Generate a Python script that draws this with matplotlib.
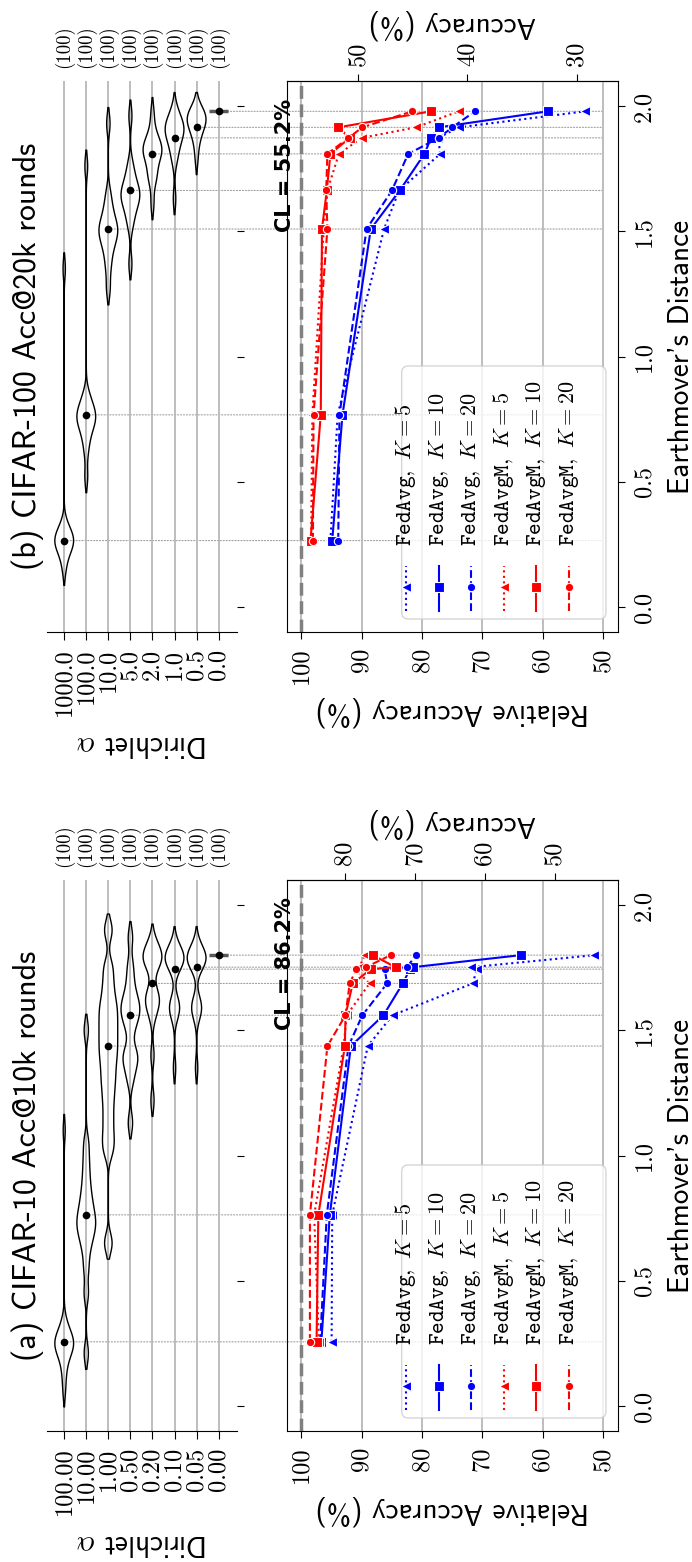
import numpy as np
import matplotlib
matplotlib.use("Agg")
import matplotlib.pyplot as plt
from matplotlib import mlab
from matplotlib.patches import ConnectionPatch, FancyBboxPatch

plt.rcParams["mathtext.fontset"] = "cm"
plt.rcParams["axes.unicode_minus"] = False

# ---------------- data ----------------
# (a) CIFAR-10
alpha_a = ["100.00", "10.00", "1.00", "0.50", "0.20", "0.10", "0.05", "0.00"]
count_a = [100, 100, 100, 100, 100, 100, 100, 100]
emd_a = [0.256, 0.763, 1.437, 1.560, 1.687, 1.744, 1.752, 1.800]
violin_a = [
    [0.06, 0.12, 0.16, 0.19, 0.21, 0.22, 0.23, 0.24, 0.25, 0.25, 0.26, 0.27, 0.28, 0.29, 0.31, 0.34, 1.10],
    [0.21, 0.45, 0.55, 0.62, 0.66, 0.69, 0.71, 0.73, 0.75, 0.77, 0.80, 0.83, 0.87, 0.92, 0.98, 1.05, 1.50],
    [0.65, 1.02, 1.08, 1.15, 1.22, 1.28, 1.33, 1.38, 1.42, 1.46, 1.50, 1.54, 1.58, 1.62, 1.68, 1.75, 1.90],
    [1.13, 1.30, 1.35, 1.38, 1.40, 1.42, 1.50, 1.54, 1.56, 1.58, 1.60, 1.62, 1.65, 1.70, 1.76, 1.87],
    [1.22, 1.40, 1.55, 1.59, 1.61, 1.62, 1.64, 1.66, 1.74, 1.77, 1.78, 1.79, 1.80, 1.81, 1.83, 1.86],
    [1.35, 1.55, 1.58, 1.59, 1.60, 1.62, 1.74, 1.76, 1.77, 1.78, 1.79, 1.79, 1.80, 1.81, 1.82, 1.85],
    [1.35, 1.55, 1.58, 1.59, 1.60, 1.62, 1.75, 1.76, 1.77, 1.78, 1.79, 1.79, 1.80, 1.81, 1.82, 1.85],
    [1.80],
]
fedavg5_a = [95.0, 94.9, 89.0, 84.9, 71.6, 70.9, 71.8, 51.4]
fedavg10_a = [96.7, 95.3, 91.8, 86.4, 83.2, 82.0, 81.5, 63.6]
fedavg20_a = [96.9, 95.8, 92.2, 89.9, 85.8, 86.2, 82.5, 81.0]
fedavgm5_a = [97.1, 97.9, 93.0, 92.5, 88.7, 91.1, 90.4, 89.5]
fedavgm10_a = [97.5, 97.2, 92.8, 92.7, 91.5, 88.5, 84.4, 88.2]
fedavgm20_a = [98.6, 98.6, 95.7, 92.7, 92.0, 90.9, 89.3, 85.2]
cl_a = 86.2
acc_ticks_a = [80, 70, 60, 50]

# (b) CIFAR-100
alpha_b = ["1000.0", "100.0", "10.0", "5.0", "2.0", "1.0", "0.5", "0.0"]
count_b = [100, 100, 100, 100, 100, 100, 100, 100]
emd_b = [0.265, 0.767, 1.509, 1.663, 1.809, 1.873, 1.915, 1.979]
violin_b = [
    [0.15, 0.20, 0.22, 0.24, 0.25, 0.26, 0.265, 0.27, 0.28, 0.29, 0.31, 0.33, 1.35],
    [0.52, 0.62, 0.67, 0.70, 0.72, 0.74, 0.75, 0.76, 0.77, 0.78, 0.80, 0.82, 0.85, 1.76],
    [1.27, 1.35, 1.40, 1.44, 1.46, 1.48, 1.50, 1.51, 1.52, 1.54, 1.57, 1.60, 1.65, 1.93],
    [1.37, 1.52, 1.56, 1.59, 1.61, 1.63, 1.64, 1.65, 1.66, 1.68, 1.70, 1.73, 1.77, 1.96],
    [1.61, 1.70, 1.72, 1.74, 1.78, 1.80, 1.81, 1.82, 1.83, 1.84, 1.85, 1.87, 1.90, 1.97],
    [1.63, 1.78, 1.81, 1.84, 1.86, 1.88, 1.89, 1.90, 1.91, 1.92, 1.93, 1.94, 1.96, 1.99],
    [1.79, 1.85, 1.88, 1.90, 1.92, 1.93, 1.94, 1.95, 1.95, 1.96, 1.97, 1.98, 1.99],
    [1.979],
]
fedavg5_b = [95.2, 94.0, 86.3, 83.8, 77.0, 77.3, 73.9, 52.9]
fedavg10_b = [94.9, 93.2, 88.5, 83.7, 79.6, 78.5, 77.2, 59.1]
fedavg20_b = [93.9, 93.7, 89.2, 85.0, 82.3, 77.2, 75.0, 71.2]
fedavgm5_b = [98.4, 98.2, 96.3, 95.7, 93.8, 90.0, 81.0, 73.9]
fedavgm10_b = [98.5, 96.8, 96.6, 95.8, 95.2, 92.0, 93.9, 78.5]
fedavgm20_b = [98.1, 98.0, 95.7, 95.9, 95.7, 92.2, 89.9, 81.6]
cl_b = 55.2
acc_ticks_b = [50, 40, 30]

emd_ticks = [0.0, 0.5, 1.0, 1.5, 2.0]
rel_ticks = [100, 90, 80, 70, 60, 50]

# label, colour, linestyle, marker, markersize
styles = [
    (r"$\mathtt{FedAvg},\ K = 5$", "blue", ":", "<", 7.5),
    (r"$\mathtt{FedAvg},\ K = 10$", "blue", "-", "s", 7),
    (r"$\mathtt{FedAvg},\ K = 20$", "blue", "--", "o", 6),
    (r"$\mathtt{FedAvgM},\ K = 5$", "red", ":", "<", 7.5),
    (r"$\mathtt{FedAvgM},\ K = 10$", "red", "-", "s", 7),
    (r"$\mathtt{FedAvgM},\ K = 20$", "red", "--", "o", 6),
]

panels = [
    dict(title="(a) CIFAR-10 Acc@10k rounds", alphas=alpha_a, counts=count_a, emd=emd_a,
         samples=violin_a, cl=cl_a, acc_ticks=acc_ticks_a,
         series=[fedavg5_a, fedavg10_a, fedavg20_a, fedavgm5_a, fedavgm10_a, fedavgm20_a],
         top=880, bottom=1431),
    dict(title="(b) CIFAR-100 Acc@20k rounds", alphas=alpha_b, counts=count_b, emd=emd_b,
         samples=violin_b, cl=cl_b, acc_ticks=acc_ticks_b,
         series=[fedavg5_b, fedavg10_b, fedavg20_b, fedavgm5_b, fedavgm10_b, fedavgm20_b],
         top=81, bottom=632),
]

# ---------------- layout ----------------
W, H = 692, 1562
fig = plt.figure(figsize=(W / 100, H / 100), dpi=100)


def box(x0, y0, x1, y1):
    return [x0 / W, 1 - y1 / H, (x1 - x0) / W, (y1 - y0) / H]


def violin_stats(samples, h=0.04, cut=1.6):
    # kde evaluated a little past the data so the ends taper (like seaborn's cut)
    data = np.asarray(samples, dtype=float)
    kde = mlab.GaussianKDE(data, bw_method=h / np.std(data, ddof=1))
    coords = np.linspace(data.min() - cut * h, data.max() + cut * h, 300)
    return dict(coords=coords, vals=kde.evaluate(coords), mean=data.mean(),
                median=np.median(data), min=data.min(), max=data.max())


TICK = 17.5
LAB = 21
SANS = "cmss10"
SERIF = "cmr10"

for p in panels:
    ax_v = fig.add_axes(box(47, p["top"], 237, p["bottom"]))
    ax_a = fig.add_axes(box(287, p["top"], 618, p["bottom"]))
    for ax in (ax_v, ax_a):
        ax.set_facecolor("none")
        ax.set_ylim(-0.1, 2.1)
        ax.set_yticks(emd_ticks)

    emd = p["emd"]
    pos = list(range(len(p["alphas"])))

    # ---- violin panel (rotated) ----
    multi = [i for i in pos if len(p["samples"][i]) > 1]
    parts = ax_v.violin([violin_stats(p["samples"][i]) for i in multi], positions=multi,
                        widths=0.85, showextrema=False)
    for body in parts["bodies"]:
        body.set_facecolor("none")
        body.set_edgecolor("black")
        body.set_linewidth(1.0)
        body.set_alpha(1)
    for i in pos:
        if len(p["samples"][i]) == 1:
            ax_v.hlines(p["samples"][i][0], i - 0.42, i + 0.42, color="0.35", lw=2.5, zorder=3)
    ax_v.plot(pos, emd, "o", color="black", ms=4.5, zorder=5)

    ax_v.set_xlim(-0.78, 7.83)
    ax_v.set_xticks(pos)
    ax_v.set_xticklabels(p["alphas"])
    ax_v.tick_params(axis="x", labelrotation=90, labelsize=TICK, labelfontfamily=SERIF,
                     length=6, pad=6)
    ax_v.yaxis.tick_right()
    ax_v.tick_params(axis="y", labelright=False, length=5)
    for s in ("top", "left", "right"):
        ax_v.spines[s].set_visible(False)
    ax_v.grid(axis="x", color="0.72", lw=1.3)
    ax_v.set_axisbelow(True)
    ax_v.set_xlabel(r"Dirichlet $\alpha$", rotation=180, fontsize=LAB, family=SANS, labelpad=10)

    sec_v = ax_v.secondary_xaxis("top")
    sec_v.set_xticks(pos)
    sec_v.set_xticklabels(["(%d)" % c for c in p["counts"]])
    sec_v.tick_params(length=0, labelrotation=90, labelsize=13.5, labelfontfamily=SERIF, pad=9)
    sec_v.spines["top"].set_visible(False)

    ymid = 1 - (p["top"] + p["bottom"]) / 2 / H
    fig.text(27.5 / W, ymid, p["title"], rotation=90, ha="center", va="center",
             fontsize=23, family=SANS)

    # ---- accuracy panel (rotated) ----
    for (label, color, ls, marker, ms), vals in zip(styles, p["series"]):
        ax_a.plot(vals, emd, color=color, ls=ls, marker=marker, ms=ms, mec="white",
                  mew=0.8, lw=1.5, zorder=3)
    ax_a.axvline(100, color="gray", ls="--", lw=2.5, zorder=2)
    ax_a.text(101.0, 2.03, "CL = %.1f%%" % p["cl"], rotation=90, ha="right", va="top",
              fontsize=15, fontweight="bold", clip_on=False)

    ax_a.set_xlim(102.4, 47.5)
    ax_a.set_xticks(rel_ticks)
    ax_a.set_yticklabels(["%.1f" % t for t in emd_ticks])
    ax_a.yaxis.tick_right()
    ax_a.yaxis.set_label_position("right")
    ax_a.tick_params(labelsize=TICK, labelfontfamily=SERIF, length=5, pad=6)
    ax_a.tick_params(axis="both", labelrotation=90)
    for t in ax_a.get_yticklabels():
        t.set_va("center")
    ax_a.grid(axis="x", color="0.72", lw=1.3)
    ax_a.set_axisbelow(True)
    ax_a.set_xlabel("Relative Accuracy (%)", rotation=180, fontsize=LAB, family=SANS, labelpad=9)
    ax_a.set_ylabel("Earthmover's Distance", rotation=90, fontsize=LAB, family=SANS, labelpad=9)

    cl = p["cl"]
    sec_a = ax_a.secondary_xaxis("top", functions=(lambda r, c=cl: r * c / 100,
                                                   lambda a, c=cl: a * 100 / c))
    sec_a.set_xticks(p["acc_ticks"])
    sec_a.tick_params(labelrotation=90, labelsize=TICK, labelfontfamily=SERIF, length=5, pad=6)
    sec_a.set_xlabel("Accuracy (%)", rotation=180, fontsize=LAB, family=SANS, labelpad=7)

    # legend drawn by hand so it can be rotated
    frame = FancyBboxPatch((0.3465, 0.0236), 0.6172, 0.4592, transform=ax_a.transAxes,
                           boxstyle="round,pad=0,rounding_size=0.02", mutation_aspect=331 / 551,
                           fc="white", ec="0.8", alpha=0.8, zorder=4)
    ax_a.add_patch(frame)
    for j, (label, color, ls, marker, ms) in enumerate(styles):
        xc = 0.3595 + 0.0983 * j
        ax_a.plot([xc, xc, xc], [0.038, 0.082, 0.12], transform=ax_a.transAxes, color=color,
                  ls=ls, marker=marker, ms=ms, markevery=[1], mec="white", mew=0.8, lw=1.5,
                  zorder=5, clip_on=False)
        ax_a.text(xc, 0.156, label, transform=ax_a.transAxes, rotation=90, ha="center",
                  va="bottom", fontsize=16, zorder=5)

    # dotted guides from each violin mean to the accuracy panel
    for i in pos:
        con = ConnectionPatch(xyA=(i, emd[i]), coordsA="data", axesA=ax_v,
                              xyB=(50, emd[i]), coordsB="data", axesB=ax_a,
                              color="0.62", ls=":", lw=0.8, zorder=-1)
        fig.add_artist(con)

fig.savefig("out.png", dpi=100)
